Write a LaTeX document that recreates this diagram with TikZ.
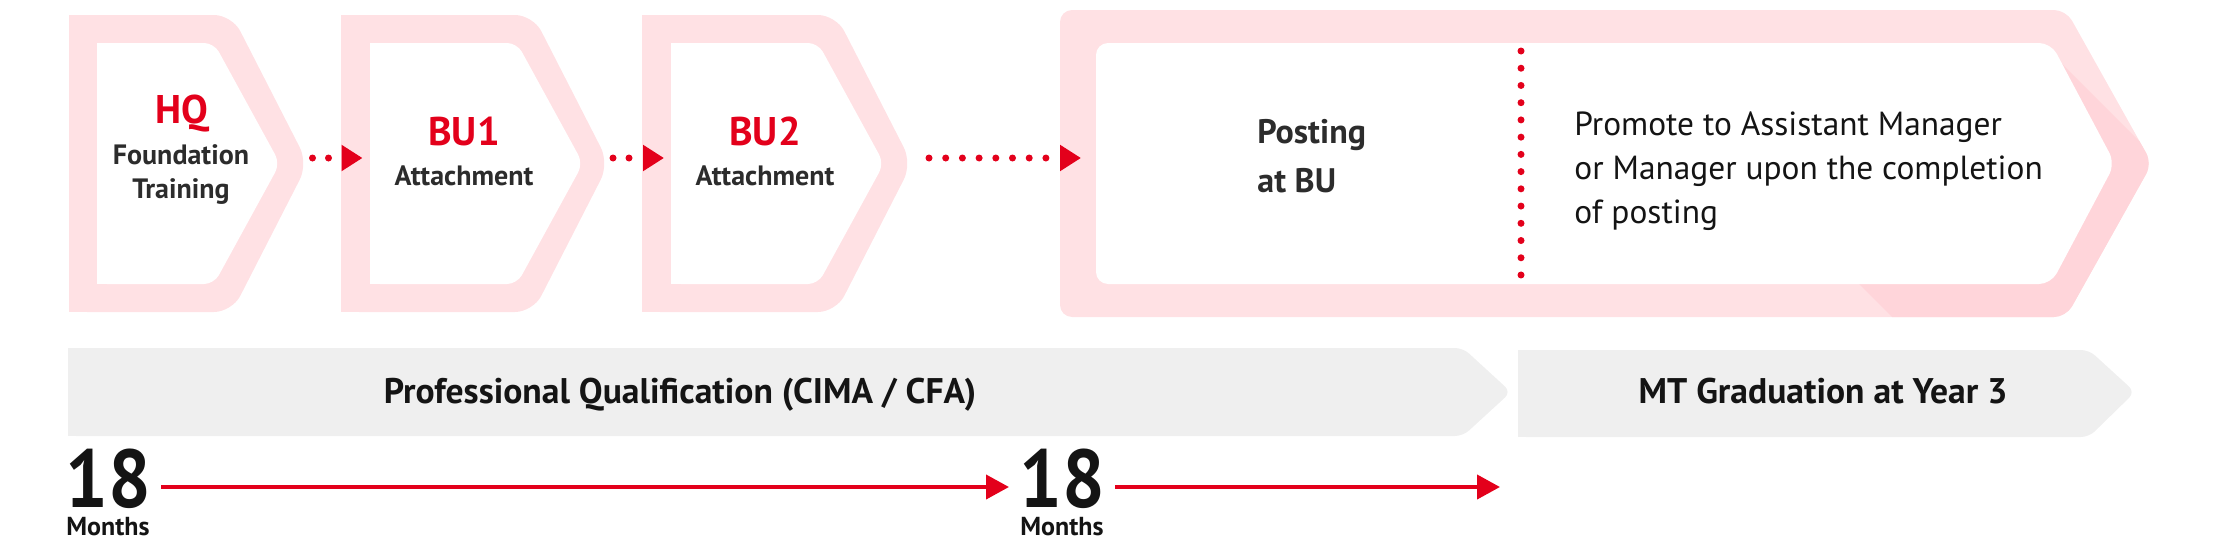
\documentclass[tikz,border=0pt]{standalone}
\usepackage{fontspec}
\setmainfont{PT Sans}
\newfontfamily\nb{PT Sans}
\newfontfamily\nbn{PT Sans}[FakeStretch=0.92]
\usetikzlibrary{arrows.meta}
\definecolor{brand}{RGB}{227,0,27}
\definecolor{pinkL}{RGB}{255,225,228}
\definecolor{pinkD}{RGB}{255,213,218}
\definecolor{barg}{RGB}{239,239,239}
\definecolor{txt}{RGB}{44,44,44}
\definecolor{txtb}{RGB}{20,20,20}
\begin{document}
\begin{tikzpicture}[x=0.5pt,y=-0.5pt,
  ttl/.style={inner sep=0pt, anchor=base, text=brand, font=\nb\bfseries\fontsize{20}{24}\selectfont},
  sub/.style={inner sep=0pt, anchor=base, text=txt, font=\nb\bfseries\fontsize{14}{16}\selectfont},
  post/.style={inner sep=0pt, anchor=base west, text=txt, font=\nb\bfseries\fontsize{17}{20}\selectfont},
  prom/.style={inner sep=0pt, anchor=base west, text=txtb, font=\fontsize{16.7}{20}\selectfont},
  barlbl/.style={inner sep=0pt, anchor=base, text=txtb, font=\nb\bfseries\fontsize{17.8}{22}\selectfont},
  big/.style={inner sep=0pt, anchor=base west, text=txtb, font=\nbn\bfseries\fontsize{41}{44}\selectfont},
  mon/.style={inner sep=0pt, anchor=base west, text=txtb, font=\nb\bfseries\fontsize{13}{14}\selectfont},
  dotarr/.style={draw=brand, line width=3.5pt, line cap=round, dash pattern=on 0pt off #1,
    -{Triangle[length=10.5pt,width=12.5pt,line cap=butt]}},
  dotarr/.default=8pt,
  redarr/.style={draw=brand, line width=2pt, -{Triangle[length=11.5pt,width=12pt]}},
  outerp/.style={fill=pinkL},
  innerw/.style={fill=white}
]
\useasboundingbox (0,0) rectangle (2216,546);

% ---------- pink chevrons ----------
\fill[outerp, rounded corners=9pt] (69,15) -- (232,15) -- (308,163.5) -- (232,312) -- (69,312) -- cycle;
\fill[outerp] (69,15) rectangle (150,312);
\fill[outerp, rounded corners=9pt] (341,15) -- (533,15) -- (609,163.5) -- (533,312) -- (341,312) -- cycle;
\fill[outerp] (341,15) rectangle (420,312);
\fill[outerp, rounded corners=9pt] (642,15) -- (836,15) -- (912,163.5) -- (836,312) -- (642,312) -- cycle;
\fill[outerp] (642,15) rectangle (720,312);
\fill[outerp, rounded corners=6pt] (1060,10) -- (2066,10) -- (2152,163.5) -- (2066,317) -- (1060,317) -- cycle;
\begin{scope}
  \clip (2045,47) -- (2230,232) -- (2230,330) -- (1905,330) -- (1840,265) -- (2045,265) -- cycle;
  \fill[pinkD, rounded corners=6pt] (1060,10) -- (2066,10) -- (2152,163.5) -- (2066,317) -- (1060,317) -- cycle;
\end{scope}

% ---------- white insides ----------
\fill[innerw, rounded corners=5pt] (97,43) -- (214,43) -- (280,163.5) -- (214,284) -- (97,284) -- cycle;
\fill[innerw] (97,43) rectangle (160,284);
\fill[innerw, rounded corners=5pt] (370,43) -- (517,43) -- (583,163.5) -- (517,284) -- (370,284) -- cycle;
\fill[innerw] (370,43) rectangle (440,284);
\fill[innerw, rounded corners=5pt] (671,43) -- (818,43) -- (884,163.5) -- (818,284) -- (671,284) -- cycle;
\fill[innerw] (671,43) rectangle (740,284);
\fill[innerw, rounded corners=6pt] (1096,43) -- (2051,43) -- (2115,163.5) -- (2051,284) -- (1096,284) -- cycle;

% ---------- grey bars ----------
\fill[barg, rounded corners=4pt] (68,348) -- (1463,348) -- (1511,392) -- (1463,436) -- (68,436) -- cycle;
\fill[barg] (68,348) rectangle (1400,436);
\fill[barg, rounded corners=4pt] (1518,350) -- (2089,350) -- (2135,392) -- (2089,437) -- (1518,437) -- cycle;
\fill[barg] (1518,350) rectangle (2000,437);

% ---------- texts ----------
\node[ttl] (hq) at (182,123) {HQ};
\node[sub] (hqa) at (181,164) {Foundation};
\node[sub] (hqb) at (181,198) {Training};
\node[ttl] (bu1) at (464,145) {BU1};
\node[sub] (bu1a) at (464,185) {Attachment};
\node[ttl] (bu2) at (765,145) {BU2};
\node[sub] (bu2a) at (765,185) {Attachment};
\node[post] (posta) at (1257,143) {Posting};
\node[post] (postb) at (1257,192) {at BU};
\node[prom] (proma) at (1574,135) {Promote to Assistant Manager};
\node[prom] (promb) at (1574,179) {or Manager upon the completion};
\node[prom] (promc) at (1574,223) {of posting};
\node[barlbl] (pq) at (680,403) {Professional Qualification (CIMA / CFA)};
\node[barlbl] (mt) at (1823,403) {MT Graduation at Year 3};
\node[big] (na) at (65,507) {18};
\node[mon] (ma) at (66,535) {Months};
\node[big] (nb) at (1019,507) {18};
\node[mon] (mb) at (1020,535) {Months};

% ---------- connectors ----------
\coordinate (hqOut) at (312.5,158);
\coordinate (buOneIn) at (362.5,158);
\coordinate (buOneOut) at (613,158);
\coordinate (buTwoIn) at (664,158);
\coordinate (buTwoOut) at (929,158);
\coordinate (postIn) at (1081,158);
\draw[dotarr] (hqOut) -- (buOneIn);
\draw[dotarr] (buOneOut) -- (buTwoIn);
\draw[dotarr=8.35pt] (buTwoOut) -- (postIn);

\coordinate (divT) at (1521,51);
\coordinate (divB) at (1521,275.5);
\draw[draw=brand, line width=3.5pt, line cap=round, dash pattern=on 0pt off 8.615pt] (divT) -- (divB);

\coordinate (ly) at (0,487);
\coordinate (endL) at (1500,487);
\draw[redarr, shorten <=5pt, shorten >=5pt] (na.east |- ly) -- (nb.west |- ly);
\draw[redarr, shorten <=5pt] (nb.east |- ly) -- (endL);
\end{tikzpicture}
\end{document}
